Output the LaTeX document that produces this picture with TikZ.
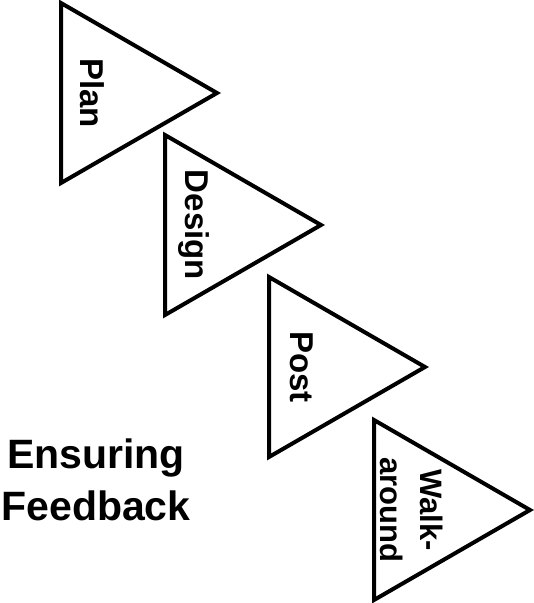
\documentclass[tikz,border=0pt]{standalone}
\usepackage{fontspec}
\setmainfont{Liberation Sans}
\usepackage{tikz}
\usetikzlibrary{positioning, shapes.geometric}

\begin{document}
\begin{tikzpicture}[
  x=1pt, y=-1pt,
  stepbox/.style={isosceles triangle, isosceles triangle stretches,
                  shape border rotate=0, draw=black, line width=4pt,
                  line join=miter, minimum width=180pt, minimum height=156pt,
                  inner sep=0pt, outer sep=0pt, anchor=lower side},
  steplbl/.style={rotate=-90, anchor=base, inner sep=0pt,
                  font=\fontsize{33}{40}\selectfont\bfseries, align=center},
  titlelbl/.style={anchor=base, inner sep=0pt, align=center,
                   font=\fontsize{41}{52}\selectfont\bfseries}
]
\useasboundingbox (0,0) rectangle (534,603);

%% --- STEPS ---
\node[stepbox] (plan)   at (61, 93)  {};
\node[stepbox] (design) at (165, 225) {};
\node[stepbox] (post)   at (269, 367) {};
\node[stepbox] (walk)   at (374, 510) {};

%% --- STEP LABELS ---
\node[steplbl] (planlbl)   at ([xshift=19pt]plan.lower side)   {Plan};
\node[steplbl] (designlbl) at ([xshift=20pt]design.lower side) {Design};
\node[steplbl] (postlbl)   at ([xshift=21pt]post.lower side)   {Post};
\node[steplbl, font=\fontsize{31}{40}\selectfont\bfseries] (walklbl)
      at ([xshift=6pt]walk.lower side) {Walk-\\around};

%% --- TITLE ---
\node[titlelbl] (title) at (96, 520) {Ensuring\\Feedback};

\end{tikzpicture}
\end{document}
